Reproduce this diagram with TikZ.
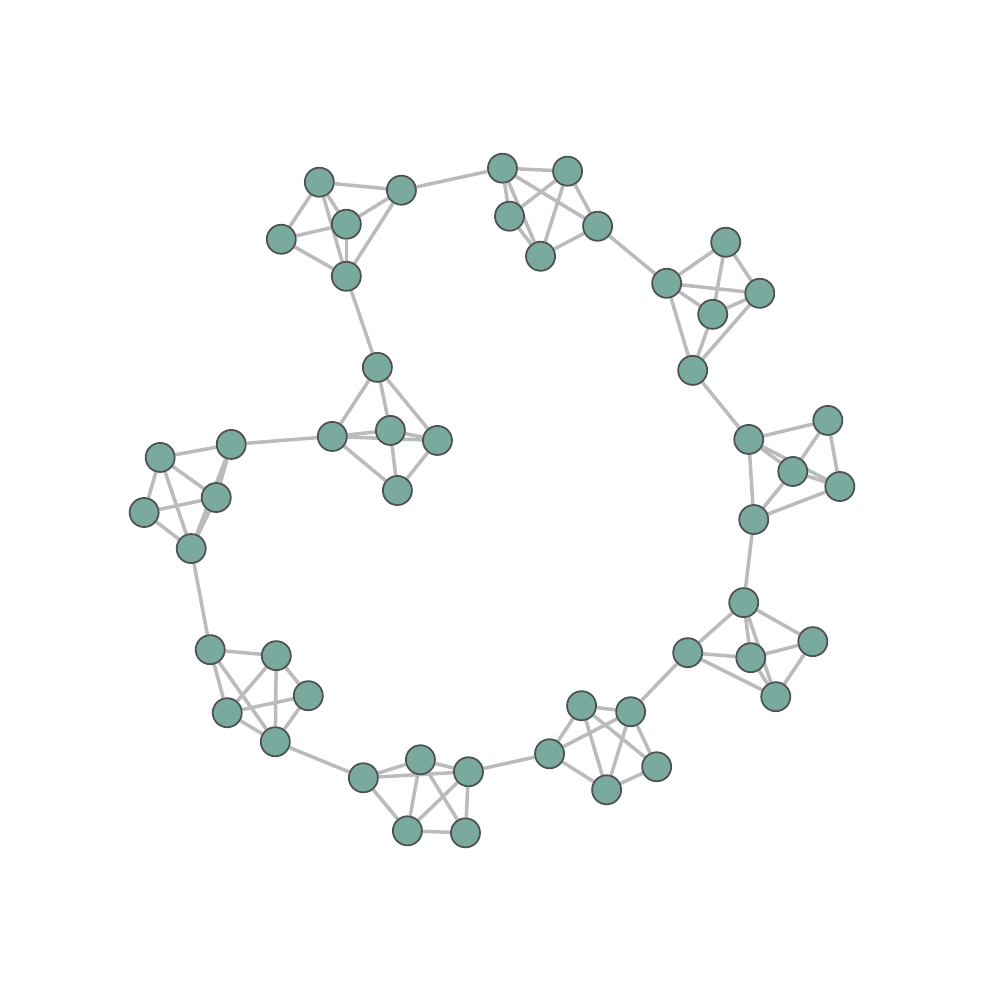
\documentclass[tikz,border=0pt]{standalone}
\usepackage{xcolor}
\usepackage{tikz}
\usetikzlibrary{backgrounds}
\definecolor{vfill}{HTML}{7AAA9F}
\definecolor{vline}{HTML}{4D5251}
\definecolor{elink}{HTML}{BBBBBB}

\begin{document}
\begin{tikzpicture}[
    x=0.01cm, y=-0.01cm,
    vert/.style={circle, draw=vline, fill=vfill, line width=0.5pt, minimum size=0.29cm, inner sep=0pt},
    link/.style={draw=elink, line width=1pt}
]
  \useasboundingbox (0,0) rectangle (1000,1000);

  % cluster top-left
  \node[vert] (a1) at (319,182) {};
  \node[vert] (a2) at (401,190) {};
  \node[vert] (a3) at (346,224) {};
  \node[vert] (a4) at (281,239) {};
  \node[vert] (a5) at (346,276) {};
  % cluster top
  \node[vert] (b1) at (502,168) {};
  \node[vert] (b2) at (567,171) {};
  \node[vert] (b3) at (509,216) {};
  \node[vert] (b4) at (540,256) {};
  \node[vert] (b5) at (597,226) {};
  % cluster top-right
  \node[vert] (c1) at (666,283) {};
  \node[vert] (c2) at (725,242) {};
  \node[vert] (c3) at (759,293) {};
  \node[vert] (c4) at (712,314) {};
  \node[vert] (c5) at (692,370) {};
  % cluster right
  \node[vert] (d1) at (748,439) {};
  \node[vert] (d2) at (827,420) {};
  \node[vert] (d3) at (792,471) {};
  \node[vert] (d4) at (839,486) {};
  \node[vert] (d5) at (753,519) {};
  % cluster lower right
  \node[vert] (e1) at (743,602) {};
  \node[vert] (e2) at (812,641) {};
  \node[vert] (e3) at (750,657) {};
  \node[vert] (e4) at (687,652) {};
  \node[vert] (e5) at (775,696) {};
  % cluster bottom right
  \node[vert] (f1) at (581,705) {};
  \node[vert] (f2) at (630,711) {};
  \node[vert] (f3) at (549,753) {};
  \node[vert] (f4) at (606,789) {};
  \node[vert] (f5) at (656,766) {};
  % cluster bottom
  \node[vert] (g1) at (363,777) {};
  \node[vert] (g2) at (420,759) {};
  \node[vert] (g3) at (468,771) {};
  \node[vert] (g4) at (407,830) {};
  \node[vert] (g5) at (465,832) {};
  % cluster lower left
  \node[vert] (h1) at (210,649) {};
  \node[vert] (h2) at (276,655) {};
  \node[vert] (h3) at (308,695) {};
  \node[vert] (h4) at (227,712) {};
  \node[vert] (h5) at (275,741) {};
  % cluster left
  \node[vert] (i1) at (160,457) {};
  \node[vert] (i2) at (231,444) {};
  \node[vert] (i3) at (216,497) {};
  \node[vert] (i4) at (144,512) {};
  \node[vert] (i5) at (191,548) {};
  % cluster centre
  \node[vert] (j1) at (377,367) {};
  \node[vert] (j2) at (332,436) {};
  \node[vert] (j3) at (390,430) {};
  \node[vert] (j4) at (437,440) {};
  \node[vert] (j5) at (397,490) {};

  \begin{scope}[on background layer]
    % inside each cluster
    \foreach \u/\v in {a1/a2,a1/a3,a1/a4,a1/a5,a2/a3,a2/a5,a3/a4,a3/a5,a4/a5,
                       b1/b2,b1/b3,b1/b4,b1/b5,b2/b3,b2/b4,b2/b5,b3/b4,b4/b5,
                       c1/c2,c1/c3,c1/c4,c1/c5,c2/c3,c2/c4,c3/c4,c3/c5,c4/c5,
                       d1/d2,d1/d3,d1/d4,d1/d5,d2/d3,d2/d4,d3/d4,d3/d5,d4/d5,
                       e1/e2,e1/e3,e1/e4,e1/e5,e2/e3,e2/e5,e3/e4,e3/e5,e4/e5,
                       f1/f2,f1/f3,f1/f4,f1/f5,f2/f3,f2/f4,f2/f5,f3/f4,f4/f5,
                       g1/g2,g1/g3,g1/g4,g2/g3,g2/g4,g2/g5,g3/g4,g3/g5,g4/g5,
                       h1/h2,h1/h4,h1/h5,h2/h3,h2/h4,h2/h5,h3/h4,h3/h5,h4/h5,
                       i1/i2,i1/i3,i1/i4,i1/i5,i2/i3,i2/i5,i3/i4,i3/i5,i4/i5,
                       j1/j2,j1/j3,j1/j4,j2/j3,j2/j4,j2/j5,j3/j4,j3/j5,j4/j5}
      \draw[link] (\u) -- (\v);
    % ring between clusters
    \foreach \u/\v in {a2/b1,b5/c1,c5/d1,d5/e1,e4/f2,f3/g3,g1/h5,h1/i5,i2/j2,j1/a5}
      \draw[link] (\u) -- (\v);
  \end{scope}
\end{tikzpicture}
\end{document}
